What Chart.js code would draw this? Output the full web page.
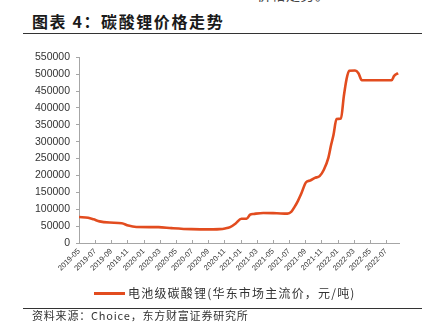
<!DOCTYPE html>
<html>
<head>
<meta charset="utf-8">
<script src="https://cdn.jsdelivr.net/npm/chart.js@4/dist/chart.umd.min.js"></script>
<style>
    html, body { margin: 0; padding: 0; background: #fff; }
    body { width: 437px; height: 336px; position: relative; overflow: hidden; font-family: "Noto Sans CJK SC", sans-serif; }
    .top-cut { position: absolute; left: 257px; top: -16px; font-size: 14px; color: #444; letter-spacing: 0.5px; }
    .title { position: absolute; left: 32px; top: 9px; font-size: 16px; font-weight: bold; color: #1a1a1a; letter-spacing: 1.6px; }
    .rule { position: absolute; left: 23px; width: 399px; height: 1px; background: #333; }
    .chart-box { position: absolute; left: 0; top: 45px; width: 437px; height: 240px; }
    .legend { position: absolute; left: 94px; top: 284px; font-size: 12px; color: #333; letter-spacing: 1.2px; white-space: nowrap; }
    .legend .swatch { display: inline-block; width: 31px; height: 3px; background: #E24C1F; vertical-align: middle; margin-right: 3px; position: relative; top: -1px; }
    .source { position: absolute; left: 32px; top: 307px; font-size: 11px; color: #333; letter-spacing: 0.8px; white-space: nowrap; }
</style>
</head>
<body>
<div class="top-cut">价格走势。</div>
<div class="title">图表 4：碳酸锂价格走势</div>
<div class="rule" style="top: 33px;"></div>
<div class="chart-box"><canvas id="price-chart"></canvas></div>
<div class="legend"><span class="swatch"></span>电池级碳酸锂(华东市场主流价，元/吨)</div>
<div class="rule" style="top: 308px;"></div>
<div class="source">资料来源：Choice，东方财富证券研究所</div>

<script>
// Battery-grade lithium carbonate, East China spot price (CNY/t)
const dates = [
    "2019-05-01", "2019-06-05", "2019-06-25", "2019-07-18", "2019-08-25",
    "2019-10-10", "2019-11-04", "2019-12-04", "2020-02-25", "2020-04-15",
    "2020-06-28", "2020-09-18", "2020-10-14", "2020-11-03", "2020-11-22",
    "2020-12-13", "2021-01-04", "2021-01-24", "2021-02-06", "2021-02-18",
    "2021-03-26", "2021-05-16", "2021-06-25", "2021-07-10", "2021-07-22",
    "2021-08-04", "2021-08-16", "2021-09-04", "2021-09-19", "2021-10-07",
    "2021-10-25", "2021-11-10", "2021-11-27", "2021-12-07", "2021-12-16",
    "2021-12-28", "2022-01-14", "2022-01-25", "2022-02-04", "2022-02-13",
    "2022-03-06", "2022-03-19", "2022-04-01", "2022-07-22", "2022-08-01",
    "2022-08-16"
];
const prices = [
    77000, 74500, 70000, 64000, 60500,
    58500, 51500, 47500, 47000, 44000,
    41000, 40500, 41000, 43000, 47000,
    58000, 72000, 72000, 84000, 86000,
    89000, 88000, 87000, 93000, 107000,
    125000, 145000, 180000, 185000, 193000,
    198000, 217000, 253000, 290000, 319000,
    367000, 369000, 435000, 485000, 510000,
    511000, 503000, 482000, 482000, 495000,
    503000
];
const startYear = 2019;
const startMonth = 5;
const yTicks = [0, 50000, 100000, 150000, 200000, 250000, 300000, 350000, 400000, 450000, 500000, 550000];

// months elapsed since 2019-05-01, fractional by day
const monthOffset = (s) => {
    const [y, m, d] = s.split("-").map(Number);
    const days = new Date(y, m, 0).getDate();
    return (y - startYear) * 12 + (m - startMonth) + (d - 1) / days;
};

const monthLabel = (v) => {
    const total = startMonth - 1 + Math.round(v);
    const y = startYear + Math.floor(total / 12);
    const m = (total % 12) + 1;
    return `${y}-${String(m).padStart(2, "0")}`;
};

const points = dates.map((d, i) => ({ x: monthOffset(d), y: prices[i] }));

// small tick marks pointing up into the plot from the x axis
const innerTicks = {
    id: "innerTicks",
    afterDraw(chart) {
        const xs = chart.scales.x;
        const ctx = chart.ctx;
        ctx.save();
        ctx.strokeStyle = "#a6a6a6";
        ctx.lineWidth = 1;
        ctx.beginPath();
        xs.ticks.forEach((t, i) => {
            if (i === 0) return;
            const px = Math.round(xs.getPixelForValue(t.value)) + 0.5;
            ctx.moveTo(px, xs.top);
            ctx.lineTo(px, xs.top - 3);
        });
        ctx.stroke();
        ctx.restore();
    },
};

const ctx = document.getElementById("price-chart").getContext("2d");
new Chart(ctx, {
    type: "line",
    data: {
        datasets: [{
            label: "电池级碳酸锂(华东市场主流价，元/吨)",
            data: points,
            borderColor: "#E24C1F",
            borderWidth: 2.6,
            pointRadius: 0,
            fill: false,
            cubicInterpolationMode: "monotone",
        }],
    },
    options: {
        responsive: true,
        maintainAspectRatio: false,
        animation: false,
        layout: { padding: { top: 9, right: 38, left: 0, bottom: 0 } },
        plugins: {
            legend: { display: false },
            tooltip: { enabled: false },
        },
        scales: {
            x: {
                type: "linear",
                min: 0,
                max: 39.6,
                afterFit: (scale) => { scale.height = 42; },
                grid: { display: true, drawOnChartArea: false, drawTicks: false },
                border: { color: "#a6a6a6", width: 1 },
                ticks: {
                    stepSize: 2,
                    includeBounds: false,
                    autoSkip: false,
                    minRotation: 45,
                    maxRotation: 45,
                    padding: 4,
                    color: "#333",
                    font: { family: "'Liberation Sans', Arial, sans-serif", size: 7.5 },
                    callback: (v) => monthLabel(v),
                },
            },
            y: {
                min: 0,
                max: 550000,
                afterFit: (scale) => { scale.width = 79; },
                afterBuildTicks: (scale) => { scale.ticks = yTicks.map((v) => ({ value: v })); },
                grid: { display: true, drawOnChartArea: false, tickLength: 3, color: "#a6a6a6" },
                border: { color: "#a6a6a6", width: 1 },
                ticks: {
                    padding: 6,
                    color: "#333",
                    font: { family: "'Liberation Sans', Arial, sans-serif", size: 10.5 },
                    callback: (v) => String(v),
                },
            },
        },
    },
    plugins: [innerTicks],
});
</script>
</body>
</html>
